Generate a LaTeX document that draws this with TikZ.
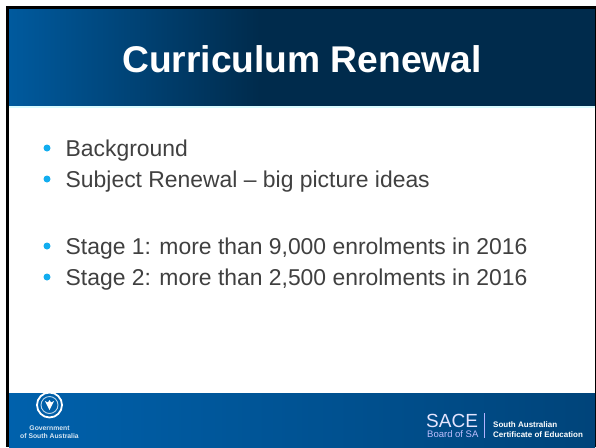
\documentclass[tikz,border=0pt]{standalone}
\usepackage{fontspec}
\setmainfont{Liberation Sans}
\definecolor{bluel}{HTML}{005A9E}
\definecolor{blued}{HTML}{002B4C}
\definecolor{footl}{HTML}{0061AC}
\definecolor{footr}{HTML}{00447A}
\definecolor{bodytext}{HTML}{404040}
\definecolor{bulletc}{HTML}{12ADEF}
\tikzset{
  x=1pt,y=-1pt,
  bodyline/.style={anchor=base west,inner sep=0,text=bodytext,font=\fontsize{22.9}{26}\selectfont},
  bulletdot/.style={circle,fill=bulletc,inner sep=0,minimum size=7},
  foot/.style={inner sep=0,text=white}
}
\begin{document}
\begin{tikzpicture}
\useasboundingbox (0,0) rectangle (596,447);
\fill[white] (0,0) rectangle (596,447);
\fill[black] (6,6) rectangle (596,447);
\fill[white] (9,106) rectangle (595,393);
\shade[left color=bluel,right color=blued] (9,9) rectangle (260,106);
\fill[blued] (260,9) rectangle (595,106);
\fill[blue!10!cyan!15] (9,106) rectangle (595,107.5);
\shade[left color=footl,right color=footr] (9,393) rectangle (595,447);
\node[foot,font=\bfseries\fontsize{37.2}{42}\selectfont] (title) at (302,59) {Curriculum Renewal};
\node[bulletdot] (dota) at (47,148) {};
\node[bodyline] (txta) at (65.5,156) {Background};
\node[bulletdot] (dotb) at (47,179) {};
\node[bodyline] (txtb) at (65.5,187) {Subject Renewal – big picture ideas};
\node[bulletdot] (dotc) at (47,246) {};
\node[bodyline] (txtc) at (65.5,254) {Stage 1: more than 9,000 enrolments in 2016};
\node[bulletdot] (dotd) at (47,277) {};
\node[bodyline] (txtd) at (65.5,285) {Stage 2: more than 2,500 enrolments in 2016};
\node[circle,draw=white,line width=1.8,minimum size=25,inner sep=0] (crest) at (49.5,405) {};
\node[circle,draw=white!75!footl,line width=0.9,minimum size=17,inner sep=0] (crestin) at (49.5,405) {};
\fill[white] (49.5,410) -- (45,401) .. controls (47,403) and (48,403) .. (49.5,400) .. controls (51,403) and (52,403) .. (54,401) -- cycle;
\node[foot,font=\bfseries\fontsize{6.8}{8}\selectfont,align=center,text=white!85!footl] (gov) at (49.5,432) {Government\\of South Australia};
\node[foot,font=\fontsize{19}{20}\selectfont,anchor=base west,text=white!90!blue] (sace) at (426,427) {SACE};
\node[foot,font=\fontsize{9.5}{10}\selectfont,anchor=base west,text=white!75!blue] (board) at (427,437) {Board of SA};
\draw[white!70!blue] (484,413) -- (484,438);
\node[foot,font=\bfseries\fontsize{8}{10}\selectfont,align=left,anchor=west] (cert) at (493,430) {South Australian\\Certificate of Education};
\end{tikzpicture}
\end{document}
